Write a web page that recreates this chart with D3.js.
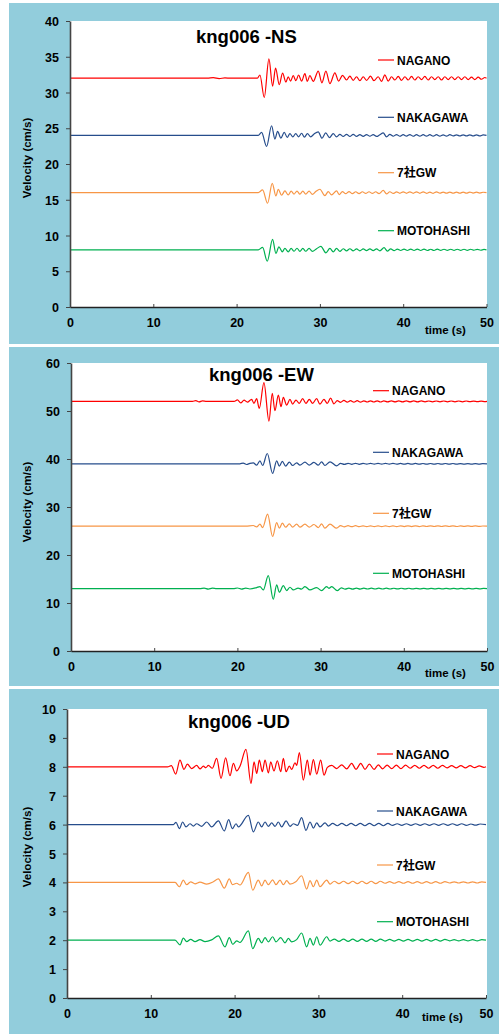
<!DOCTYPE html>
<html>
<head>
<meta charset="utf-8">
<script src="https://cdn.jsdelivr.net/npm/d3@7"></script>
<style>
  body { margin: 0; background: #fff; }
  text { font-family: "Liberation Sans", Arial, "Noto Sans CJK JP", sans-serif; font-weight: bold; fill: #000; }
</style>
</head>
<body>
<svg id="chart" width="499" height="1034"></svg>
<script>
/***********************************************************************************/
// Data

var stations = ["NAGANO", "NAKAGAWA", "7社GW", "MOTOHASHI"];
var titles = ["kng006 -NS", "kng006 -EW", "kng006 -UD"];
var xTicks = [0, 10, 20, 30, 40, 50];
var yTicksNS = [0, 5, 10, 15, 20, 25, 30, 35, 40];
var yTicksEW = [0, 10, 20, 30, 40, 50, 60];
var yTicksUD = [0, 1, 2, 3, 4, 5, 6, 7, 8, 9, 10];

// NS component [time (s), velocity (cm/s)]
var nsNagano = [[0,32],[16.5,32],[17.2,32.08],[17.9,31.95],[18.6,32.04],[19.3,32],[22.5,32],[22.8,32.45],[23.32,29.3],[23.88,34.7],[24.32,30.9],[24.68,33.4],[25.12,31.1],[25.52,32.7],[25.92,31.45],[26.2,32.2],[26.48,31.6],[26.8,32.35],[27.12,31.65],[27.44,32.45],[27.8,31.6],[28.2,32.65],[28.48,31.55],[28.8,32.35],[29.2,31.55],[29.8,33.0],[30.24,31.35],[30.72,33.0],[31.2,31.25],[31.8,32.75],[32.24,31.6],[32.72,32.4],[33.2,31.75],[33.6,32.3],[34.0,31.7],[34.4,32.2],[34.8,31.65],[35.2,32.2],[35.6,31.7],[36.08,32.3],[36.48,31.65],[37.0,32.2],[37.4,31.55],[37.8,32.47],[38.2,31.6],[38.6,32.2],[39.0,31.75],[39.4,32.25],[39.8,31.7],[40.2,32.2],[40.6,31.75],[41.0,32.25],[41.4,31.75],[41.8,32.2],[42.2,31.8],[42.6,32.25],[43.0,31.75],[43.4,32.2],[43.8,31.8],[44.2,32.2],[44.6,31.75],[45.0,32.2],[45.4,31.8],[45.8,32.2],[46.2,31.8],[46.6,32.2],[47.0,31.8],[47.4,32.2],[47.8,31.8],[48.2,32.15],[48.6,31.8],[49.0,32.15],[49.4,31.85],[49.8,32.1],[50,32]];
var nsNakagawa = [[0,24],[22.6,24],[23.0,24.42],[23.6,22.46],[24.2,25.35],[24.6,23.49],[24.92,24.56],[25.32,23.63],[25.72,24.42],[26.08,23.72],[26.4,24.25],[26.75,23.8],[27.1,24.25],[27.45,23.8],[27.8,24.3],[28.15,23.75],[28.5,24.25],[28.9,23.8],[29.3,24.2],[29.8,24.5],[30.25,23.6],[30.7,24.35],[31.15,23.7],[31.6,24.25],[32.0,23.8],[32.4,24.15],[32.8,23.85],[33.2,24.15],[33.6,23.85],[34.0,24.15],[34.4,23.85],[34.8,24.12],[35.2,23.85],[35.6,24.12],[36.0,23.88],[36.4,24.12],[36.8,23.85],[37.2,24.1],[37.6,24.35],[38.0,23.8],[38.4,24.15],[38.8,23.88],[39.2,24.12],[39.6,23.88],[40.0,24.1],[40.4,23.9],[40.8,24.12],[41.2,23.88],[41.6,24.1],[42.0,23.9],[42.4,24.1],[42.8,23.9],[43.2,24.1],[43.6,23.9],[44.0,24.1],[44.4,23.9],[44.8,24.08],[45.2,23.9],[45.6,24.1],[46.0,23.92],[46.4,24.08],[46.8,23.92],[47.2,24.08],[47.6,23.92],[48.0,24.08],[48.4,23.92],[48.8,24.08],[49.2,23.92],[49.6,24.06],[50,24]];
var nsGw = [[0,16],[22.6,16],[23.12,16.37],[23.72,14.51],[24.28,17.3],[24.72,15.53],[25.0,16.47],[25.4,15.63],[25.8,16.23],[26.2,15.67],[26.55,16.2],[26.9,15.8],[27.25,16.22],[27.6,15.78],[27.95,16.2],[28.3,15.8],[28.7,16.2],[29.1,15.75],[29.5,16.15],[30.0,16.47],[30.6,15.58],[31.0,16.14],[31.4,15.67],[32.0,16.23],[32.32,15.72],[32.7,16.15],[33.1,15.85],[33.5,16.15],[33.9,15.85],[34.3,16.12],[34.7,15.85],[35.1,16.12],[35.5,15.88],[35.9,16.12],[36.3,15.88],[36.7,16.12],[37.1,15.85],[37.6,16.3],[38.0,15.82],[38.4,16.12],[38.8,15.88],[39.2,16.1],[39.6,15.9],[40.0,16.1],[40.4,15.9],[40.8,16.1],[41.2,15.9],[41.6,16.1],[42.0,15.9],[42.4,16.1],[42.8,15.9],[43.2,16.08],[43.6,15.9],[44.0,16.1],[44.4,15.92],[44.8,16.08],[45.2,15.92],[45.6,16.08],[46.0,15.92],[46.4,16.08],[46.8,15.92],[47.2,16.08],[47.6,15.92],[48.0,16.08],[48.4,15.94],[48.8,16.06],[49.2,15.94],[49.6,16.05],[50,16]];
var nsMotohashi = [[0,8],[22.6,8],[23.12,8.33],[23.68,6.41],[24.32,9.45],[24.72,7.49],[25.08,8.42],[25.48,7.72],[25.8,8.19],[26.2,7.72],[26.55,8.2],[26.9,7.8],[27.25,8.22],[27.6,7.78],[27.95,8.2],[28.3,7.8],[28.7,8.2],[29.1,7.78],[29.6,8.15],[30.12,8.47],[30.72,7.58],[31.2,8.19],[31.6,7.7],[32.0,8.2],[32.4,7.78],[32.8,8.15],[33.2,7.85],[33.6,8.15],[34.0,7.85],[34.4,8.12],[34.8,7.85],[35.2,8.12],[35.6,7.88],[36.0,8.12],[36.4,7.88],[36.8,8.12],[37.2,7.85],[37.7,8.3],[38.1,7.82],[38.5,8.12],[38.9,7.88],[39.3,8.1],[39.7,7.9],[40.1,8.1],[40.5,7.9],[40.9,8.1],[41.3,7.9],[41.7,8.1],[42.1,7.9],[42.5,8.1],[42.9,7.9],[43.3,8.08],[43.7,7.9],[44.1,8.1],[44.5,7.92],[44.9,8.08],[45.3,7.92],[45.7,8.08],[46.1,7.92],[46.5,8.08],[46.9,7.92],[47.3,8.08],[47.7,7.92],[48.1,8.08],[48.5,7.94],[48.9,8.06],[49.3,7.94],[49.7,8.05],[50,8]];

// EW component
var ewNagano = [[0,52],[14.6,52],[15.0,52.15],[15.4,51.9],[15.8,52.1],[16.3,52],[19.6,52],[20.0,52.3],[20.4,51.7],[20.8,52.25],[21.2,51.85],[21.71,52.42],[21.99,51.58],[22.31,52.56],[22.63,50.54],[23.19,55.9],[23.79,47.9],[24.19,53.67],[24.51,50.06],[24.92,53.32],[25.24,50.89],[25.52,52.83],[25.92,51.24],[26.32,52.42],[26.64,51.44],[27.04,52.28],[27.44,51.58],[27.84,52.56],[28.24,51.6],[28.64,52.42],[29.04,51.6],[29.52,52.56],[29.92,51.44],[30.4,52.42],[30.8,51.6],[31.2,52.7],[31.6,51.5],[32.0,52.15],[32.4,51.8],[32.8,52.2],[33.2,51.85],[33.6,52.15],[34.0,51.85],[34.4,52.15],[34.8,51.85],[35.2,52.12],[35.6,51.88],[36.0,52.12],[36.4,51.88],[36.8,52.12],[37.2,51.88],[37.6,52.1],[38.05,51.9],[38.5,52.1],[38.95,51.9],[39.4,52.1],[39.85,51.9],[40.3,52.1],[40.75,51.9],[41.2,52.1],[41.65,51.9],[42.1,52.1],[42.55,51.92],[43.0,52.08],[43.45,51.92],[43.9,52.08],[44.35,51.92],[44.8,52.08],[45.25,51.92],[45.7,52.08],[46.15,51.92],[46.6,52.08],[47.05,51.92],[47.5,52.08],[47.95,51.94],[48.4,52.06],[48.85,51.94],[49.3,52.06],[49.75,51.95],[50,52]];
var ewNakagawa = [[0,39],[20.3,39],[20.7,39.15],[21.1,38.85],[21.5,39.1],[21.91,39.21],[22.31,38.72],[22.71,39.63],[23.03,38.65],[23.59,41.15],[24.23,36.99],[24.72,39.63],[25.04,38.51],[25.4,39.49],[25.8,38.51],[26.24,39.35],[26.64,38.65],[27.12,39.21],[27.52,38.72],[28.12,39.35],[28.64,38.72],[29.2,39.28],[29.72,38.72],[30.12,39.42],[30.52,38.65],[31.13,39.42],[31.93,38.58],[32.4,39.1],[32.85,38.88],[33.3,39.1],[33.75,38.9],[34.2,39.1],[34.65,38.9],[35.1,39.08],[35.55,38.92],[36.0,39.08],[36.45,38.92],[36.9,39.08],[37.35,38.92],[37.8,39.08],[38.25,38.92],[38.7,39.08],[39.15,38.92],[39.6,39.07],[40.05,38.93],[40.5,39.07],[40.95,38.93],[41.4,39.07],[41.85,38.93],[42.3,39.06],[42.75,38.94],[43.2,39.06],[43.65,38.94],[44.1,39.06],[44.55,38.94],[45.0,39.06],[45.45,38.94],[45.9,39.06],[46.35,38.94],[46.8,39.05],[47.25,38.95],[47.7,39.05],[48.15,38.95],[48.6,39.05],[49.05,38.95],[49.5,39.04],[50,39]];
var ewGw = [[0,26],[21.0,26],[21.91,26.15],[22.31,25.85],[22.71,26.42],[23.03,25.72],[23.63,28.5],[24.23,23.85],[24.72,26.76],[25.04,25.58],[25.4,26.63],[25.8,25.79],[26.24,26.49],[26.64,25.79],[27.12,26.42],[27.52,25.79],[28.12,26.42],[28.64,25.79],[29.2,26.35],[29.72,25.72],[30.12,26.49],[30.52,25.58],[31.13,26.42],[31.93,25.58],[32.4,26.12],[32.85,25.88],[33.3,26.1],[33.75,25.9],[34.2,26.1],[34.65,25.9],[35.1,26.08],[35.55,25.92],[36.0,26.08],[36.45,25.92],[36.9,26.08],[37.35,25.92],[37.8,26.08],[38.25,25.92],[38.7,26.08],[39.15,25.92],[39.6,26.07],[40.05,25.93],[40.5,26.07],[40.95,25.93],[41.4,26.07],[41.85,25.93],[42.3,26.06],[42.75,25.94],[43.2,26.06],[43.65,25.94],[44.1,26.06],[44.55,25.94],[45.0,26.06],[45.45,25.94],[45.9,26.06],[46.35,25.94],[46.8,26.05],[47.25,25.95],[47.7,26.05],[48.15,25.95],[48.6,26.05],[49.05,25.95],[49.5,26.04],[50,26]];
var ewMotohashi = [[0,13],[15.5,13],[16.0,13.1],[16.5,12.9],[17.0,13.08],[17.5,13],[19.5,13],[20.0,13.12],[20.5,12.9],[21.0,13.1],[21.5,12.92],[22.31,13.21],[22.71,13.42],[23.11,12.72],[23.71,15.71],[24.31,10.78],[24.72,13.76],[25.04,12.24],[25.52,13.63],[25.92,12.58],[26.32,13.28],[26.72,12.72],[27.3,13.1],[27.7,12.9],[28.12,13.42],[28.72,12.72],[29.52,13.21],[30.12,12.58],[30.72,13.42],[31.0,13.05],[31.33,13.42],[32.0,12.58],[32.5,13.15],[32.95,12.88],[33.4,13.1],[33.85,12.9],[34.3,13.1],[34.75,12.9],[35.2,13.08],[35.65,12.92],[36.1,13.08],[36.55,12.92],[37.0,13.08],[37.45,12.92],[37.9,13.08],[38.35,12.92],[38.8,13.07],[39.25,12.93],[39.7,13.07],[40.15,12.93],[40.6,13.07],[41.05,12.93],[41.5,13.06],[41.95,12.94],[42.4,13.06],[42.85,12.94],[43.3,13.06],[43.75,12.94],[44.2,13.06],[44.65,12.94],[45.1,13.05],[45.55,12.95],[46.0,13.05],[46.45,12.95],[46.9,13.05],[47.35,12.95],[47.8,13.05],[48.25,12.95],[48.7,13.04],[49.15,12.96],[49.6,13.04],[50,13]];

// UD component
var udNagano = [[0,8],[12.0,8],[12.45,8.04],[12.97,7.75],[13.48,8.23],[13.96,7.91],[14.36,8.09],[14.88,7.94],[15.47,8.05],[15.87,7.93],[16.27,8.02],[16.57,7.97],[16.87,8.05],[17.34,7.95],[17.86,8.29],[18.38,7.6],[18.93,8.31],[19.45,7.69],[19.85,8.12],[20.25,7.86],[20.64,8.02],[21.36,8.6],[21.96,7.42],[22.32,8.17],[22.64,7.77],[22.95,8.23],[23.31,7.83],[23.63,8.23],[24.03,7.79],[24.31,8.17],[24.7,7.86],[25.1,8.21],[25.5,7.83],[25.82,8.29],[26.14,7.83],[26.53,8.02],[26.81,7.91],[27.21,8.14],[27.41,8.05],[27.73,8.49],[28.2,7.54],[28.68,8.23],[29.0,7.71],[29.4,8.25],[29.8,7.75],[30.27,8.23],[30.67,7.71],[31.07,7.98],[31.59,8.05],[32.18,7.94],[32.78,8.07],[33.38,7.93],[33.97,8.12],[34.49,7.91],[35.05,8.12],[35.56,7.91],[36.08,8.09],[36.64,7.91],[37.15,8.07],[37.67,7.93],[38.2,8.06],[38.75,7.94],[39.3,8.06],[39.85,7.94],[40.4,8.06],[40.95,7.95],[41.5,8.05],[42.05,7.95],[42.6,8.05],[43.15,7.95],[43.7,8.05],[44.25,7.95],[44.8,8.05],[45.35,7.96],[45.9,8.04],[46.45,7.96],[47.0,8.04],[47.55,7.96],[48.1,8.04],[48.65,7.97],[49.2,8.03],[49.75,7.98],[50,8]];
var udNakagawa = [[0,6],[12.7,6],[13.01,6.08],[13.41,5.86],[13.8,6.09],[14.2,5.92],[14.68,6.03],[15.08,5.95],[15.47,6.03],[16.07,5.94],[16.67,6.09],[17.26,5.92],[18.06,6.13],[18.77,5.78],[19.29,6.17],[19.73,5.86],[20.17,6.03],[20.45,5.92],[21.64,6.32],[22.24,5.75],[22.83,6.09],[23.23,5.92],[23.63,6.09],[24.03,5.94],[24.43,6.06],[24.82,5.94],[25.22,6.09],[25.62,5.92],[26.14,6.13],[26.61,5.94],[27.01,6.03],[27.5,5.97],[28.0,6.24],[28.52,5.8],[29.0,6.09],[29.4,5.88],[29.8,6.06],[30.19,5.92],[30.79,6.06],[31.19,5.95],[31.7,6.04],[32.25,5.96],[32.8,6.04],[33.35,5.96],[33.9,6.04],[34.45,5.96],[35.0,6.04],[35.55,5.96],[36.1,6.04],[36.65,5.96],[37.2,6.04],[37.75,5.96],[38.3,6.04],[38.85,5.97],[39.4,6.03],[39.95,5.97],[40.5,6.03],[41.05,5.97],[41.6,6.03],[42.15,5.97],[42.7,6.03],[43.25,5.97],[43.8,6.03],[44.35,5.97],[44.9,6.03],[45.45,5.97],[46.0,6.03],[46.55,5.97],[47.1,6.03],[47.65,5.97],[48.2,6.02],[48.75,5.98],[49.3,6.02],[50,6]];
var udGw = [[0,4],[12.9,4],[13.41,3.85],[13.88,4.08],[14.28,3.92],[14.76,4.02],[15.28,3.95],[15.87,4.01],[16.67,3.94],[17.46,4.02],[18.06,4.12],[18.77,3.8],[19.37,4.12],[19.73,3.92],[20.25,3.97],[20.64,3.91],[21.64,4.35],[22.16,3.73],[22.83,4.08],[23.23,3.88],[23.63,4.08],[24.03,3.92],[24.54,4.09],[24.94,3.92],[25.42,4.08],[25.82,3.92],[26.22,4.06],[26.61,3.94],[27.3,4.02],[28.0,4.23],[28.6,3.77],[29.0,4.06],[29.4,3.85],[29.8,4.08],[30.19,3.85],[30.99,4.08],[31.39,3.94],[31.9,4.04],[32.45,3.96],[33.0,4.04],[33.55,3.96],[34.1,4.04],[34.65,3.96],[35.2,4.04],[35.75,3.96],[36.3,4.04],[36.85,3.96],[37.4,4.04],[37.95,3.97],[38.5,4.03],[39.05,3.97],[39.6,4.03],[40.15,3.97],[40.7,4.03],[41.25,3.97],[41.8,4.03],[42.35,3.97],[42.9,4.03],[43.45,3.97],[44.0,4.03],[44.55,3.97],[45.1,4.03],[45.65,3.98],[46.2,4.02],[46.75,3.98],[47.3,4.02],[47.85,3.98],[48.4,4.02],[48.95,3.98],[49.5,4.02],[50,4]];
var udMotohashi = [[0,2],[12.9,2],[13.48,1.84],[13.88,2.07],[14.28,1.95],[14.76,2.03],[15.28,1.95],[15.87,2.02],[16.47,1.95],[17.26,2.01],[18.06,2.15],[18.85,1.77],[19.37,2.09],[19.77,1.86],[20.25,1.98],[20.64,1.92],[21.64,2.32],[22.16,1.71],[22.83,2.06],[23.23,1.91],[23.63,2.09],[24.03,1.94],[24.54,2.12],[24.94,1.94],[25.5,2.09],[26.02,1.91],[26.41,2.06],[26.81,1.94],[27.4,2.02],[28.0,2.25],[28.6,1.77],[29.0,2.06],[29.4,1.83],[29.8,2.12],[30.19,1.83],[30.99,2.12],[31.39,1.97],[31.9,2.04],[32.45,1.96],[33.0,2.04],[33.55,1.96],[34.1,2.04],[34.65,1.96],[35.2,2.04],[35.75,1.96],[36.3,2.04],[36.85,1.96],[37.4,2.04],[37.95,1.97],[38.5,2.03],[39.05,1.97],[39.6,2.03],[40.15,1.97],[40.7,2.03],[41.25,1.97],[41.8,2.03],[42.35,1.97],[42.9,2.03],[43.45,1.97],[44.0,2.03],[44.55,1.97],[45.1,2.03],[45.65,1.98],[46.2,2.02],[46.75,1.98],[47.3,2.02],[47.85,1.98],[48.4,2.02],[48.95,1.98],[49.5,2.02],[50,2]];

/***********************************************************************************/
// Styles and layout

var colors = ["#FF0000", "#264D8C", "#F79646", "#00B050"];
var panelSeries = [
  [nsNagano, nsNakagawa, nsGw, nsMotohashi],
  [ewNagano, ewNakagawa, ewGw, ewMotohashi],
  [udNagano, udNakagawa, udGw, udMotohashi]
];
var panelTicks = [yTicksNS, yTicksEW, yTicksUD];

var frames = [
  { bg: [9, 3, 499, 344],    x0: 70, x1: 486.5, top: 21,  bottom: 307, titleX: 196, titleY: 43,  legX: 378, legY: [60, 117.3, 172.7, 230.7], labY: 158, timeX: 425, timeY: 334 },
  { bg: [9, 347, 499, 686],  x0: 71, x1: 487,   top: 363, bottom: 651, titleX: 209, titleY: 381, legX: 373, legY: [390.7, 452.3, 513.3, 573.3], labY: 502, timeX: 425, timeY: 677 },
  { bg: [9, 689, 499, 1034], x0: 67, x1: 486,   top: 709, bottom: 998, titleX: 188, titleY: 728, legX: 377, legY: [754, 811, 865, 921.7], labY: 847, timeX: 422, timeY: 1021 }
];

/***********************************************************************************/
// Draw

var svg = d3.select('#chart');

frames.forEach(function(f, i){
  var g = svg.append('g');

  g.append('rect').attr('x', f.bg[0]).attr('y', f.bg[1])
    .attr('width', f.bg[2] - f.bg[0]).attr('height', f.bg[3] - f.bg[1])
    .attr('fill', '#92CDDC');
  g.append('rect').attr('x', f.x0).attr('y', f.top)
    .attr('width', 487 - f.x0).attr('height', f.bottom - f.top)
    .attr('fill', '#fff');

  var ticks = panelTicks[i];
  var x = d3.scaleLinear().domain([0, 50]).range([f.x0, f.x1]);
  var y = d3.scaleLinear().domain([0, ticks[ticks.length - 1]]).range([f.bottom, f.top]);

  var line = d3.line().x(function(d){ return x(d[0]); }).y(function(d){ return y(d[1]); })
    .curve(d3.curveMonotoneX);

  panelSeries[i].forEach(function(s, j){
    g.append('path').attr('d', line(s)).attr('fill', 'none')
      .attr('stroke', colors[j]).attr('stroke-width', 1.2);
  });

  // axes
  var gy = g.append('g').attr('transform', 'translate(' + f.x0 + ',0)')
    .call(d3.axisLeft(y).tickValues(ticks).tickSize(4).tickSizeOuter(0).tickPadding(7));
  gy.select('.domain').attr('stroke', '#444').attr('stroke-width', 1.6);
  gy.selectAll('.tick line').attr('stroke', '#444');
  gy.selectAll('.tick text').attr('font-size', 12.5).attr('font-family', null).attr('dy', '0.36em');

  var gx = g.append('g').attr('transform', 'translate(0,' + f.bottom + ')')
    .call(d3.axisBottom(x).tickValues(xTicks).tickSize(-3).tickSizeOuter(0));
  gx.select('.domain').attr('stroke', '#222').attr('stroke-width', 1.6);
  gx.selectAll('.tick line').attr('stroke', '#444');
  gx.selectAll('.tick text').attr('font-size', 12.5).attr('font-family', null)
    .attr('y', 20).attr('dy', 0);

  // title
  g.append('text').attr('x', f.titleX).attr('y', f.titleY)
    .attr('font-size', 18.5).text(titles[i]);

  // legend
  stations.forEach(function(name, j){
    g.append('line').attr('x1', f.legX).attr('x2', f.legX + 16)
      .attr('y1', f.legY[j]).attr('y2', f.legY[j])
      .attr('stroke', colors[j]).attr('stroke-width', 1.2);
    g.append('text').attr('x', f.legX + 19).attr('y', f.legY[j] + 4.5)
      .attr('font-size', 12).text(name);
  });

  // axis titles
  g.append('text').attr('transform', 'translate(31,' + f.labY + ') rotate(-90)')
    .attr('text-anchor', 'middle').attr('font-size', 11.5).text('Velocity (cm/s)');
  g.append('text').attr('x', f.timeX).attr('y', f.timeY)
    .attr('font-size', 11.5).text('time (s)');
});
</script>
</body>
</html>
